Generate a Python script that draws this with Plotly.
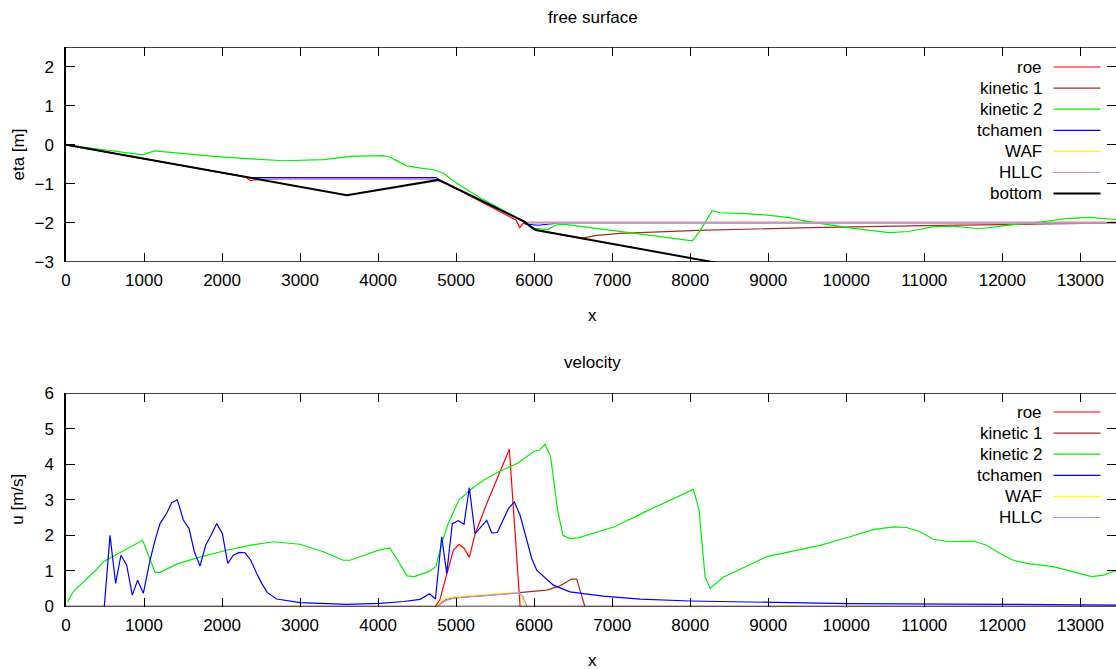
import plotly.graph_objects as go

W, H = 1116, 669

# ---------------- free surface eta(x) ----------------
bottom_x = [0, 3600, 4775, 5880, 5950, 6020, 13500]
bottom_eta = [0.0, -1.29, -0.90, -1.97, -2.09, -2.18, -4.89]

roe_eta_x = [0, 2300, 2360, 2470, 4740, 4800, 4880, 5770, 5815, 5860, 5905, 13500]
roe_eta = [0.0, -0.823, -0.92, -0.885, -0.885, -0.935, -1.0, -1.93, -2.12, -2.01, -1.988, -1.988]

kin1_eta_x = [0, 2470, 4740, 4790, 5880, 5950, 6020, 6620, 6800, 7100, 8100, 9550, 11000, 12400, 13500]
kin1_eta = [0.0, -0.885, -0.885, -0.916, -1.97, -2.09, -2.18, -2.39, -2.32, -2.27, -2.19, -2.12, -2.07, -2.03, -2.0]

kin2_eta_x = [0, 985, 1131, 1500, 1900, 2358, 2800, 3300, 3640, 4067, 4153, 4250, 4366,
              4550, 4708, 4836, 5007, 5300, 5600, 5830, 5988, 6180, 6266, 6368, 7195,
              8028, 8130, 8281, 8380, 8700, 8986, 9250, 9490, 9800, 10093, 10550, 10798,
              11100, 11352, 11705, 12107, 12510, 12813, 13116, 13500]
kin2_eta = [0.0, -0.257, -0.16, -0.23, -0.30, -0.36, -0.41, -0.38, -0.30, -0.28, -0.32, -0.42, -0.54,
            -0.60, -0.64, -0.73, -0.985, -1.35, -1.68, -1.92, -2.14, -2.17, -2.06, -2.03, -2.24,
            -2.46, -2.19, -1.69, -1.74, -1.76, -1.80, -1.86, -1.96, -2.06, -2.14, -2.25, -2.22,
            -2.10, -2.08, -2.15, -2.05, -1.97, -1.89, -1.86, -1.92]

tcham_eta_x = [0, 2346, 4745, 4790, 5850, 5890, 6050, 6245, 6330, 13500]
tcham_eta = [0.0, -0.84, -0.84, -0.916, -1.94, -2.03, -2.06, -2.03, -2.0, -2.0]

waf_eta_x = [0, 2470, 4740, 4790, 5907, 13500]
waf_eta = [0.0, -0.885, -0.885, -0.916, -2.0, -2.0]

hllc_eta_x = [0, 2470, 4740, 4790, 5907, 13500]
hllc_eta = [0.0, -0.885, -0.885, -0.916, -2.0, -2.0]

# ---------------- velocity u(x) ----------------
roe_u_x = [0, 4730, 4790, 4964, 5037, 5105, 5169, 5242, 5392, 5541, 5682, 5820, 13500]
roe_u = [0, 0, 0.18, 1.58, 1.75, 1.63, 1.38, 2.03, 2.89, 3.69, 4.42, 0, 0]

kin1_u_x = [0, 4745, 4860, 4970, 5400, 5800, 5900, 6160, 6330, 6480, 6545, 6650, 13500]
kin1_u = [0, 0, 0.19, 0.25, 0.31, 0.38, 0.41, 0.46, 0.58, 0.77, 0.77, 0, 0]

kin2_u_x = [20, 94, 393, 479, 982, 1141, 1205, 1418, 1700, 2059, 2350, 2657, 3000, 3298, 3555,
            3640, 4025, 4120, 4150, 4211, 4372, 4464, 4647, 4740, 4830, 4898, 5035, 5195,
            5364, 5562, 5792, 6005, 6066, 6140, 6210, 6300, 6369, 6455, 6562, 7031, 7442,
            8040, 8113, 8190, 8254, 8424, 8980, 9407, 9663, 10047, 10346, 10603, 10774,
            10945, 11116, 11329, 11628, 11799, 11970, 12141, 12312, 12654, 12825, 12995,
            13145, 13294, 13500]
kin2_u = [0.13, 0.42, 1.04, 1.26, 1.86, 0.96, 0.96, 1.19, 1.38, 1.58, 1.72, 1.82, 1.75, 1.54, 1.30,
          1.30, 1.60, 1.64, 1.64, 1.44, 0.86, 0.84, 0.98, 1.12, 1.87, 2.33, 2.99, 3.30,
          3.57, 3.80, 4.03, 4.37, 4.39, 4.56, 4.22, 2.71, 2.00, 1.91, 1.93, 2.24, 2.68,
          3.29, 2.72, 0.84, 0.51, 0.82, 1.40, 1.60, 1.72, 1.96, 2.16, 2.24, 2.22,
          2.10, 1.89, 1.82, 1.84, 1.72, 1.49, 1.30, 1.21, 1.12, 1.02, 0.91,
          0.84, 0.88, 1.04]

tcham_u_x = [0, 491, 564, 636, 704, 778, 850, 918, 991, 1077, 1140, 1205, 1290, 1355, 1427, 1504,
             1577, 1645, 1718, 1790, 1859, 1932, 2004, 2073, 2145, 2218, 2295, 2368, 2444,
             2508, 2581, 2700, 3000, 3598, 4025, 4330, 4537, 4660, 4735, 4815, 4879, 4951,
             5028, 5101, 5169, 5242, 5392, 5456, 5528, 5669, 5746, 5819, 5969, 6033, 6246,
             6459, 6886, 7357, 7997, 8980, 10005, 11970, 13500]
tcham_u = [0, 0, 2.0, 0.65, 1.44, 1.16, 0.32, 0.74, 0.37, 1.30, 1.85, 2.33, 2.62, 2.92, 3.0, 2.43,
           2.19, 1.54, 1.14, 1.72, 2.00, 2.33, 2.05, 1.21, 1.44, 1.52, 1.51, 1.30, 0.93,
           0.65, 0.39, 0.21, 0.11, 0.06, 0.09, 0.14, 0.20, 0.36, 0.21, 1.96, 0.93, 2.33,
           2.41, 2.31, 3.34, 2.05, 2.42, 2.07, 2.08, 2.75, 2.94, 2.57, 1.35, 1.02, 0.60,
           0.41, 0.29, 0.21, 0.155, 0.11, 0.08, 0.06, 0.04]

waf_u_x = [0, 4750, 4800, 4860, 4970, 5400, 5800, 5830, 5885, 13500]
waf_u = [0, 0, 0.12, 0.22, 0.27, 0.33, 0.40, 0.33, 0, 0]

hllc_u_x = [0, 4760, 4820, 4880, 4990, 5400, 5800, 5850, 5910, 13500]
hllc_u = [0, 0, 0.10, 0.18, 0.24, 0.31, 0.38, 0.30, 0, 0]

# ---------------- axes ----------------
x_ticks = list(range(0, 14000, 1000))
eta_ticks = [-3, -2, -1, 0, 1, 2]
u_ticks = [0, 1, 2, 3, 4, 5, 6]
x_range = [0, 13457]
eta_range = [-3, 2.5]
u_range = [0, 6]

FONT = "Liberation Sans, Arial, sans-serif"
FS = 17

LW = 1.2
styles = {
    "roe": dict(color="#ff0000", width=LW),
    "kinetic 1": dict(color="#a52a2a", width=LW),
    "kinetic 2": dict(color="#00ee00", width=LW),
    "tchamen": dict(color="#0000ff", width=LW),
    "WAF": dict(color="#ffff00", width=LW),
    "HLLC": dict(color="#bb88ff", width=LW),
    "bottom": dict(color="#000000", width=2),
}

eta_series = [
    ("roe", roe_eta_x, roe_eta),
    ("kinetic 1", kin1_eta_x, kin1_eta),
    ("kinetic 2", kin2_eta_x, kin2_eta),
    ("tchamen", tcham_eta_x, tcham_eta),
    ("WAF", waf_eta_x, waf_eta),
    ("HLLC", hllc_eta_x, hllc_eta),
    ("bottom", bottom_x, bottom_eta),
]
u_series = [
    ("roe", roe_u_x, roe_u),
    ("kinetic 1", kin1_u_x, kin1_u),
    ("kinetic 2", kin2_u_x, kin2_u),
    ("tchamen", tcham_u_x, tcham_u),
    ("WAF", waf_u_x, waf_u),
    ("HLLC", hllc_u_x, hllc_u),
]

fig = go.Figure()
for name, xs, ys in eta_series:
    fig.add_trace(go.Scatter(x=xs, y=ys, mode="lines", name=name, line=styles[name],
                             xaxis="x", yaxis="y", showlegend=False))
for name, xs, ys in u_series:
    fig.add_trace(go.Scatter(x=xs, y=ys, mode="lines", name=name, line=styles[name],
                             xaxis="x2", yaxis="y2", showlegend=False))
# carriers for the mirrored right-hand tick marks
fig.add_trace(go.Scatter(x=[], y=[], xaxis="x", yaxis="y3", showlegend=False))
fig.add_trace(go.Scatter(x=[], y=[], xaxis="x2", yaxis="y4", showlegend=False))

# panel geometry (pixels)
PL = 66
TOP1, BOT1 = 47, 262
TOP2, BOT2 = 393, 606.5
BORDER = 1.5


def py(p):
    return 1 - p / H


def px(p):
    return p / W


axis_common = dict(ticks="inside", ticklen=9, tickwidth=1, tickcolor="black",
                   showline=True, linecolor="black", linewidth=BORDER,
                   showgrid=False, zeroline=False, automargin=False,
                   tickfont=dict(family=FONT, size=FS, color="black"))

# horizontal frame edges are drawn as shapes above the curves (see below)
xcfg = dict(axis_common, range=x_range, tickvals=x_ticks, tickformat="d", mirror="ticks",
            showline=False, domain=[px(PL), 1], ticklabelstandoff=6)
fig.update_layout(
    xaxis=dict(xcfg, anchor="y"),
    xaxis2=dict(xcfg, anchor="y2"),
    yaxis=dict(axis_common, range=eta_range, tickvals=eta_ticks, anchor="x",
               domain=[py(BOT1), py(TOP1)], ticklabelstandoff=7),
    yaxis2=dict(axis_common, range=u_range, tickvals=u_ticks, anchor="x2",
                domain=[py(BOT2), py(TOP2)], ticklabelstandoff=7),
    yaxis3=dict(axis_common, range=eta_range, tickvals=eta_ticks, overlaying="y",
                side="right", anchor="x", showline=False, showticklabels=False),
    yaxis4=dict(axis_common, range=u_range, tickvals=u_ticks, overlaying="y2",
                side="right", anchor="x2", showline=False, showticklabels=False),
)

annotations = []
shapes = []
mid_x = (PL + 1119) / 2

# top and bottom frame edges, on top of the curves so that values resting
# on the range limits sit under the border
for yr, rng in (("y", eta_range), ("y2", u_range)):
    for yv in rng:
        shapes.append(dict(type="line", xref="paper", yref=yr,
                           x0=px(PL - BORDER), x1=1, y0=yv, y1=yv,
                           layer="above", line=dict(color="black", width=BORDER)))


def text(s, x, y, xanchor="center", **kw):
    annotations.append(dict(text=s, x=px(x), y=py(y), xref="paper", yref="paper",
                            xanchor=xanchor, yanchor="middle", showarrow=False,
                            font=dict(family=FONT, size=FS, color="black"), **kw))


text("free surface", mid_x, 17)
text("velocity", mid_x, 362)
text("x", mid_x, 315)
text("x", mid_x, 660)
text("eta [m]", 18, (TOP1 + BOT1) / 2, textangle=-90)
text("u [m/s]", 18, (TOP2 + BOT2) / 2, textangle=-90)

# key: label right-aligned, sample line to its right
ROW = 21.1
for series, y0 in ((eta_series, 67), (u_series, 412)):
    for i, (name, _, _) in enumerate(series):
        yy = y0 + i * ROW
        text(name, 1044, yy, xanchor="right")
        shapes.append(dict(type="line", xref="paper", yref="paper",
                           x0=px(1053.5), x1=px(1100.5), y0=py(yy), y1=py(yy),
                           line=styles[name]))

fig.update_layout(
    width=W, height=H,
    margin=dict(l=0, r=0, t=0, b=0),
    paper_bgcolor="white", plot_bgcolor="white",
    font=dict(family=FONT, size=FS, color="black"),
    annotations=annotations, shapes=shapes,
    showlegend=False,
)

fig.write_html("out.html")
